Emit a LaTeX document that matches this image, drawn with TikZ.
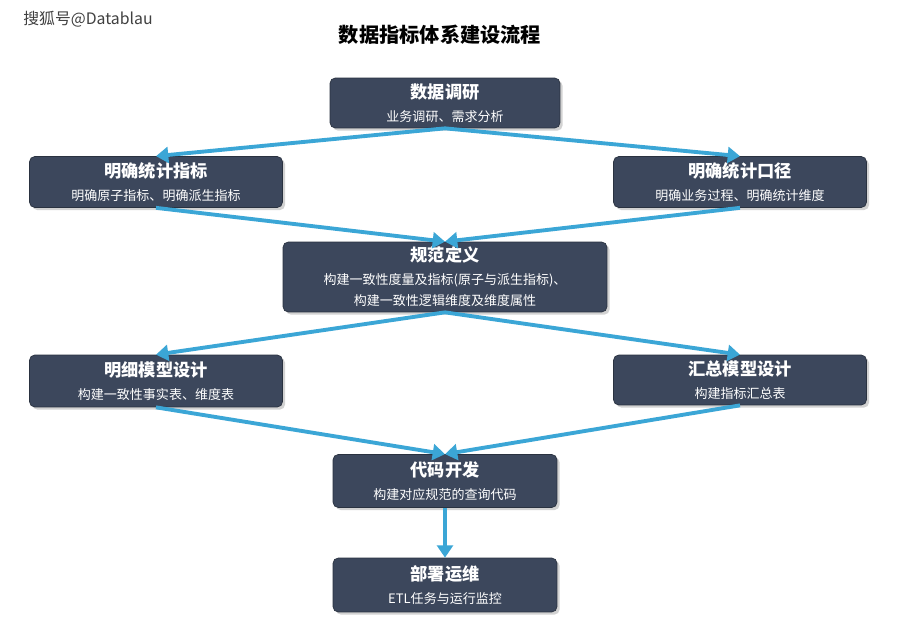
\documentclass[tikz,border=0pt]{standalone}
\usepackage{fontspec}
\setmainfont{Noto Sans CJK SC}
\usetikzlibrary{arrows.meta,shadows}
\definecolor{boxc}{HTML}{3C475C}
\definecolor{arr}{HTML}{3BA6D6}
\tikzset{
 bx/.style={draw=boxc!70!black,fill=boxc,rounded corners=3pt,text=white,align=center,inner sep=0pt,drop shadow={opacity=0.35,shadow xshift=1.5pt,shadow yshift=-1.5pt}},
 ar/.style={draw=arr,line width=2.2pt,-{Triangle[length=7pt,width=9pt]}}
}
\newcommand{\bxt}[2]{{\fontsize{9.8}{12}\selectfont\bfseries #1}\\[1pt]{\fontsize{7.4}{9.5}\selectfont #2}}
\newcommand{\sbt}{\fontsize{7.4}{9.5}\selectfont}
\begin{document}
\begin{tikzpicture}[x=0.02cm,y=-0.02cm]
\useasboundingbox[fill=white] (0,0) rectangle (900,625);
\node[font=\fontsize{9}{10}\selectfont,text=black!75] (wm) at (88,19) {搜狐号@Datablau};
\node[font=\fontsize{11.5}{13}\selectfont\bfseries] (title) at (440,35) {数据指标体系建设流程};
\node[bx,minimum width=4.6cm,minimum height=1.0cm] (a) at (445,103) {\bxt{数据调研}{业务调研、需求分析}};
\node[bx,minimum width=5.06cm,minimum height=1.02cm] (b) at (156,182) {\bxt{明确统计指标}{明确原子指标、明确派生指标}};
\node[bx,minimum width=5.06cm,minimum height=1.02cm] (c) at (740,182) {\bxt{明确统计口径}{明确业务过程、明确统计维度}};
\node[bx,minimum width=6.48cm,minimum height=1.4cm] (d) at (445,277) {{\fontsize{9.8}{12}\selectfont\bfseries 规范定义}\\[1pt]\sbt 构建一致性度量及指标(原子与派生指标)、\\\sbt 构建一致性逻辑维度及维度属性};
\node[bx,minimum width=5.06cm,minimum height=1.04cm] (e) at (156,381) {\bxt{明细模型设计}{构建一致性事实表、维度表}};
\node[bx,minimum width=5.06cm,minimum height=1.0cm] (f) at (740,380) {\bxt{汇总模型设计}{构建指标汇总表}};
\node[bx,minimum width=4.48cm,minimum height=1.06cm] (g) at (445,481) {\bxt{代码开发}{构建对应规范的查询代码}};
\node[bx,minimum width=4.48cm,minimum height=1.08cm] (h) at (445,585) {\bxt{部署运维}{ETL任务与运行监控}};
\draw[ar] (a.south) -- (b.north);
\draw[ar] (a.south) -- (c.north);
\draw[ar] (b.south) -- (d.north);
\draw[ar] (c.south) -- (d.north);
\draw[ar] (d.south) -- (e.north);
\draw[ar] (d.south) -- (f.north);
\draw[ar] (e.south) -- (g.north);
\draw[ar] (f.south) -- (g.north);
\draw[ar] (g.south) -- (h.north);
\end{tikzpicture}
\end{document}
